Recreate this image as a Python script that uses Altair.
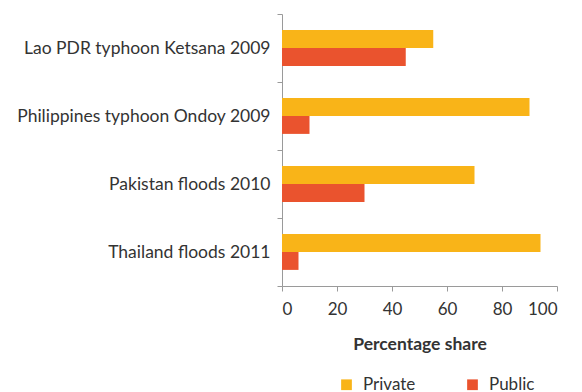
import altair as alt
import pandas as pd

# Disaster events and the private / public split of damage and losses (%)
events = [
    "Lao PDR typhoon Ketsana 2009",
    "Philippines typhoon Ondoy 2009",
    "Pakistan floods 2010",
    "Thailand floods 2011",
]
private_share = [55, 90, 70, 94]
public_share = [45, 10, 30, 6]
sectors = ["Private", "Public"]
sector_colors = ["#F9B418", "#EA532E"]

rows = []
for ev, pv, pb in zip(events, private_share, public_share):
    rows.append({"event": ev, "sector": "Private", "share": pv})
    rows.append({"event": ev, "sector": "Public", "share": pb})
df = pd.DataFrame(rows)

FONT = "Lato"
TEXT = "#333333"
AXIS_GREY = "#9a9a9a"

chart = (
    alt.Chart(df)
    .mark_bar()
    .encode(
        y=alt.Y(
            "event:N",
            sort=events,
            title=None,
            scale=alt.Scale(paddingInner=0, paddingOuter=0),
            axis=alt.Axis(
                tickBand="extent",
                tickSize=5,
                labelPadding=7,
                labelFontSize=17.5,
                labelColor=TEXT,
                domainColor=AXIS_GREY,
                tickColor=AXIS_GREY,
                labelLimit=400,
            ),
        ),
        yOffset=alt.YOffset(
            "sector:N",
            sort=sectors,
            scale=alt.Scale(paddingInner=0, paddingOuter=0.9),
        ),
        x=alt.X(
            "share:Q",
            scale=alt.Scale(domain=[0, 100]),
            axis=alt.Axis(
                values=[0, 20, 40, 60, 80, 100],
                grid=False,
                tickSize=5,
                labelPadding=10,
                labelFontSize=17,
                labelColor=TEXT,
                domainColor=AXIS_GREY,
                tickColor=AXIS_GREY,
                title="Percentage share",
                titleFontSize=17.5,
                titleFontWeight="bold",
                titleColor=TEXT,
                titlePadding=18,
            ),
        ),
        color=alt.Color(
            "sector:N",
            sort=sectors,
            scale=alt.Scale(domain=sectors, range=sector_colors),
            legend=alt.Legend(
                title=None,
                orient="none",
                direction="horizontal",
                legendX=56,
                legendY=362,
                symbolType="square",
                symbolSize=115,
                symbolStrokeWidth=0,
                labelFontSize=17,
                labelColor=TEXT,
                columnPadding=48,
                labelOffset=8,
            ),
        ),
    )
    .properties(width=275, height=272)
    .configure(font=FONT, autosize=alt.AutoSizeParams(type="none"))
    .properties(padding={"left": 282, "top": 14, "right": 25, "bottom": 106})
    .configure_view(stroke=None)
)

chart.save("out.html", embed_options={"renderer": "svg", "actions": False})
